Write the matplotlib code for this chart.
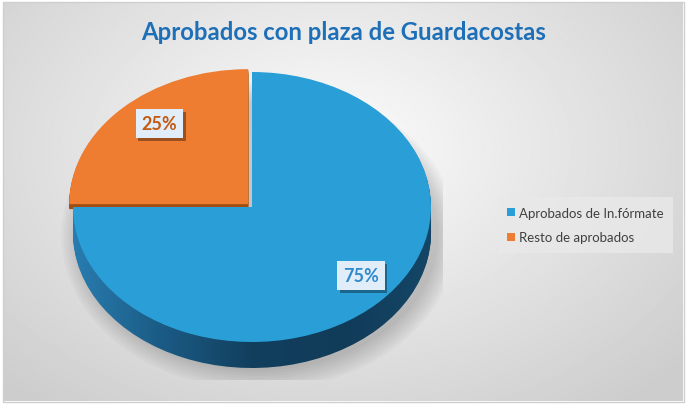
import numpy as np
import matplotlib.pyplot as plt
from matplotlib import patheffects as pe
from matplotlib.colors import LinearSegmentedColormap
from matplotlib.patches import Ellipse, Rectangle

plt.rcParams['font.family'] = ['Lato', 'DejaVu Sans']

title = "Aprobados con plaza de Guardacostas"
labels = ["Aprobados de In.fórmate", "Resto de aprobados"]
shares = [75, 25]
explode = [0, 0.03]
colors = ["#2a9fd7", "#ee7d31"]
label_colors = ["#2f8bcb", "#c55a11"]
side_orange = "#a14e13"

W, H = 686, 406
fig = plt.figure(figsize=(W / 100, H / 100), dpi=100, facecolor="white")

# background: soft radial gradient inside a thin grey frame
bg = fig.add_axes([0, 0, 1, 1])
yy, xx = np.mgrid[0:H, 0:W]
r = np.hypot((xx - 330) / 430, (yy - 150) / 300)
shade = 0.99 - 0.17 * np.clip(r, 0, 1.1)
bg.imshow(shade, cmap="gray", vmin=0, vmax=1, extent=(3, W - 3, H - 4, 3),
          aspect="auto", zorder=0)
bg.add_patch(Rectangle((2.5, 2.5), W - 5, H - 6, fill=False,
                       edgecolor="#cfcfcf", linewidth=1))
bg.set_xlim(0, W)
bg.set_ylim(H, 0)
bg.axis("off")

# pie geometry in pixels (ellipse = tilted pie)
cx, cy, rx, ry, depth, m = 252, 208, 179, 135, 26, 12
top_px = cy - ry - m
bot_px = cy + ry + depth + m
ax = fig.add_axes([(cx - rx - m) / W, 1 - bot_px / H,
                   (2 * rx + 2 * m) / W, (bot_px - top_px) / H])
d = depth / ry

# soft drop shadow
for k in range(8):
    ax.add_patch(Ellipse((0.04, -d - 0.02), 2.0 + 0.03 * k, 2.0 + 0.04 * k,
                         color="black", alpha=0.025, linewidth=0, zorder=0))

side_cmap = LinearSegmentedColormap.from_list(
    "side", ["#2a80b4", "#1b5c86", "#123f5e", "#113c59", "#154768"])
grad = np.linspace(0, 1, 256).reshape(1, -1)

n = 26
for k in range(n, 0, -1):
    off = k * d / n
    w, _ = ax.pie(shares, explode=explode, startangle=90, counterclock=False,
                  center=(0, -off), wedgeprops=dict(linewidth=0))
    w[0].set_facecolor("none")
    if k <= 5:
        w[1].set_facecolor(side_orange)
    else:
        w[1].set_visible(False)
    im = ax.imshow(grad, cmap=side_cmap, extent=(-1.05, 1.05, -1.5, 1.1),
                   aspect="auto", zorder=1)
    im.set_clip_path(w[0])

wedges, _, autotexts = ax.pie(
    shares, explode=explode, colors=colors, startangle=90, counterclock=False,
    autopct="%d%%", pctdistance=0.78, wedgeprops=dict(linewidth=0))
for w in wedges:
    w.set_zorder(3)

# perspective nudge of the labels (up and right)
for t, c in zip(autotexts, label_colors):
    x, y = t.get_position()
    t.set_position((x + 10 / rx, y + 6 / ry))
    t.set_color(c)
    t.set_fontsize(13)
    t.set_fontweight("bold")
    t.set_zorder(5)
    t.set_bbox(dict(boxstyle="square,pad=0.33", facecolor="#e1edf9",
                    edgecolor="none"))
    t.get_bbox_patch().set_path_effects(
        [pe.withSimplePatchShadow(offset=(2, -2), shadow_rgbFace="black", alpha=0.35)])

ax.set_aspect("auto")
ax.set_xlim(-1 - m / rx, 1 + m / rx)
ax.set_ylim(-1 - (depth + m) / ry, 1 + m / ry)
ax.axis("off")

fig.text(344 / W, 1 - 33 / H, title, ha="center", va="center",
         fontsize=17.2, fontweight="bold", color="#1d70b8")

leg = fig.legend(wedges, labels, loc="center left",
                 bbox_to_anchor=(491 / W, 1 - 226 / H), frameon=True,
                 fancybox=False, facecolor="#e9e9e9", edgecolor="none",
                 framealpha=0.8, fontsize=9.5, handlelength=0.55,
                 handleheight=0.55, handletextpad=0.3, labelspacing=0.95,
                 borderpad=0.75)
for t in leg.get_texts():
    t.set_color("#404040")

fig.savefig("out.png", dpi=100)
